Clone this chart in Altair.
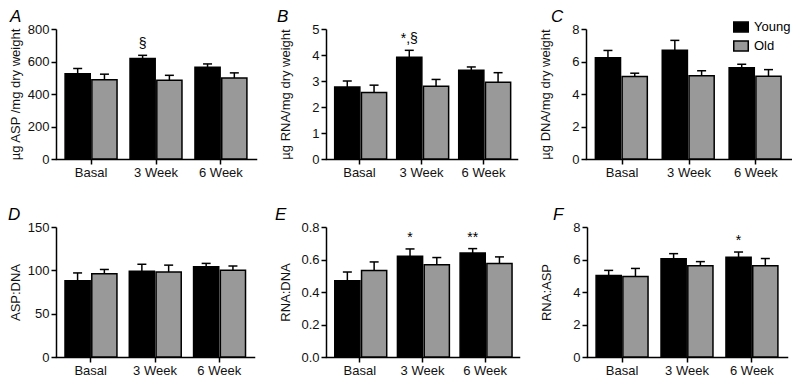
import altair as alt
import pandas as pd

categories = ["Basal", "3 Week", "6 Week"]
groups = ["Young", "Old"]

# Panel A: µg ASP / mg dry weight
a_young = [525, 618, 565]
a_young_top = [557, 638, 585]
a_old = [488, 484, 498]
a_old_top = [522, 515, 530]

# Panel B: µg RNA / mg dry weight
b_young = [2.77, 3.91, 3.41]
b_young_top = [3.0, 4.18, 3.54]
b_old = [2.56, 2.80, 2.95]
b_old_top = [2.84, 3.06, 3.32]

# Panel C: µg DNA / mg dry weight
c_young = [6.23, 6.70, 5.61]
c_young_top = [6.68, 7.30, 5.83]
c_old = [5.07, 5.12, 5.10]
c_old_top = [5.28, 5.43, 5.50]

# Panel D: ASP:DNA
d_young = [88, 99, 104]
d_young_top = [97, 107, 108]
d_old = [96, 98, 100]
d_old_top = [101, 106, 105]

# Panel E: RNA:DNA
e_young = [0.47, 0.62, 0.64]
e_young_top = [0.523, 0.665, 0.667]
e_old = [0.533, 0.568, 0.575]
e_old_top = [0.585, 0.612, 0.616]

# Panel F: RNA:ASP
f_young = [5.02, 6.04, 6.14]
f_young_top = [5.33, 6.36, 6.46]
f_old = [4.96, 5.62, 5.61]
f_old_top = [5.45, 5.87, 6.06]

# significance marks: (category, label)
a_marks = [("3 Week", "§")]
b_marks = [("3 Week", "*,§")]
c_marks = []
d_marks = []
e_marks = [("3 Week", "*"), ("6 Week", "**")]
f_marks = [("6 Week", "*")]

FONT = "Liberation Sans"

legend = alt.Legend(
    orient="none", legendX=677, legendY=-10, title=None,
    symbolType="M-1,-0.68H1V0.68H-1Z", symbolSize=210,
    symbolStrokeColor="black", symbolStrokeWidth=1.5, symbolOpacity=1,
    labelFontSize=13, labelFont=FONT, labelColor="black", rowPadding=3,
    labelOffset=5, padding=0,
)


def panel(letter, ytitle, young, young_top, old, old_top, marks, ymax, yvalues, fmt, width,
          tdx):
    rows = []
    for i, c in enumerate(categories):
        rows.append({"cat": c, "group": "Young", "mean": young[i], "upper": young_top[i]})
        rows.append({"cat": c, "group": "Old", "mean": old[i], "upper": old_top[i]})
    df = pd.DataFrame(rows)

    x = alt.X("cat:N", sort=categories, title=None,
              scale=alt.Scale(paddingInner=0.2, paddingOuter=0.14),
              axis=alt.Axis(labelAngle=0, labelFontSize=13, labelPadding=2, tickSize=5))
    xo = alt.XOffset("group:N", sort=groups, scale=alt.Scale(paddingInner=0.06))
    yscale = alt.Scale(domain=[0, ymax], nice=False, zero=True)
    yaxis = alt.Axis(values=yvalues, format=fmt, title=ytitle, tickSize=5,
                     labelOverlap=False, minExtent=30, maxExtent=30, titlePadding=4)

    base = alt.Chart(df).encode(x=x, xOffset=xo)
    bars = base.mark_bar(stroke="black", strokeWidth=1.5).encode(
        y=alt.Y("mean:Q", scale=yscale, axis=yaxis),
        color=alt.Color("group:N", sort=groups,
                        scale=alt.Scale(domain=groups, range=["#000000", "#999999"]),
                        legend=legend),
    )
    rules = base.mark_rule(color="black", strokeWidth=1.5).encode(
        y=alt.Y("mean:Q", scale=yscale, axis=yaxis), y2="upper:Q")
    caps = base.mark_tick(color="black", thickness=1.5, size=9, opacity=1).encode(
        y=alt.Y("upper:Q", scale=yscale, axis=yaxis))
    layers = [rules, bars, caps]

    if marks:
        mrows = []
        for c, lab in marks:
            i = categories.index(c)
            mrows.append({"cat": c, "group": "Young", "upper": young_top[i], "label": lab})
        mdf = pd.DataFrame(mrows)
        txt = alt.Chart(mdf).mark_text(baseline="bottom", dy=-4, fontSize=14, font=FONT,
                                       color="black").encode(
            x=alt.X("cat:N", sort=categories), xOffset=alt.XOffset("group:N", sort=groups),
            y=alt.Y("upper:Q", scale=yscale, axis=yaxis), text="label:N")
        layers.append(txt)

    return alt.layer(*layers).properties(
        width=width, height=130,
        title=alt.TitleParams(letter, anchor="start", frame="group", fontSize=17,
                              fontStyle="italic", fontWeight="normal", font=FONT,
                              offset=0, dy=3, dx=tdx, color="black"),
    )


pA = panel("A", "µg ASP /mg dry weight", a_young, a_young_top, a_old, a_old_top, a_marks,
           800, [0, 200, 400, 600, 800], "d", 200, -46)
pB = panel("B", "µg RNA/mg dry weight", b_young, b_young_top, b_old, b_old_top, b_marks,
           5, [0, 1, 2, 3, 4, 5], "d", 191, -49)
pC = panel("C", "µg DNA/mg dry weight", c_young, c_young_top, c_old, c_old_top, c_marks,
           8, [0, 2, 4, 6, 8], "d", 206, -35)
pD = panel("D", "ASP:DNA", d_young, d_young_top, d_old, d_old_top, d_marks,
           150, [0, 50, 100, 150], "d", 198, -48)
pE = panel("E", "RNA:DNA", e_young, e_young_top, e_old, e_old_top, e_marks,
           0.8, [0, 0.2, 0.4, 0.6, 0.8], ".1f", 193, -51)
pF = panel("F", "RNA:ASP", f_young, f_young_top, f_old, f_old_top, f_marks,
           8, [0, 2, 4, 6, 8], "d", 200, -34)

row1 = alt.hconcat(pA, pB, pC, spacing=21)
row2 = alt.hconcat(pD, pE, pF, spacing=21)

chart = alt.vconcat(row1, row2, spacing=27).properties(
    padding=0
).configure_view(
    stroke=None
).configure_axis(
    grid=False, domainColor="black", domainWidth=1.5, tickColor="black", tickWidth=1.5,
    labelColor="#111111", titleColor="#111111", labelFont=FONT, titleFont=FONT,
    labelFontSize=13, titleFontSize=13, titleFontWeight="normal",
).configure_axisX(domainCap="square")

chart.save("out.html", embed_options={"renderer": "svg", "actions": False})
